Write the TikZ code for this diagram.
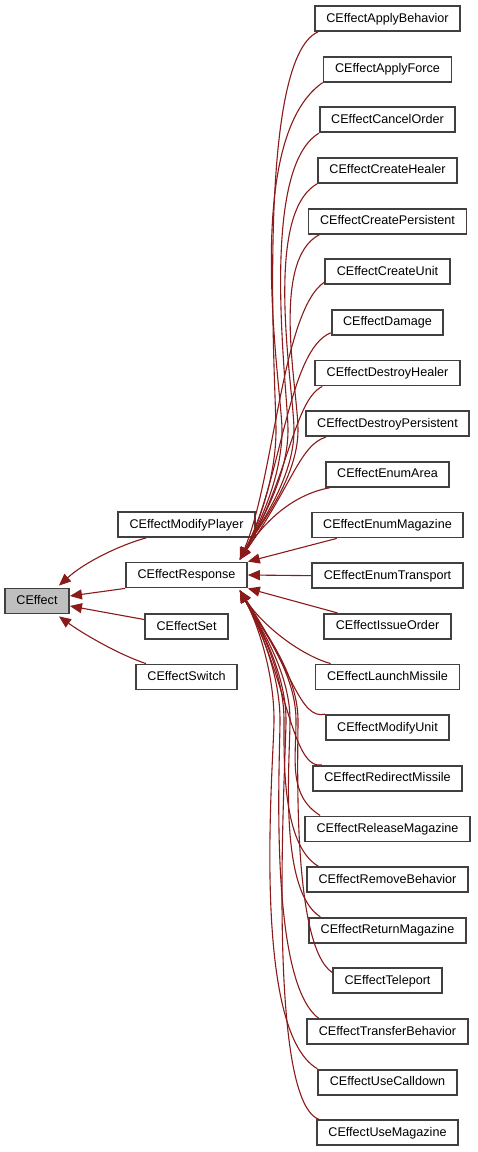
\documentclass[tikz,border=0pt]{standalone}
\usepackage{fontspec}
\setmainfont{Liberation Sans}
\usetikzlibrary{arrows.meta}
\definecolor{edgecol}{HTML}{8B1A1A}
\definecolor{boxline}{HTML}{404040}
\definecolor{rootfill}{HTML}{BFBFBF}
% #1 start point, #2 x of bundle point, #3 control near start
\newcommand\upcurve[3]{\draw[edge] (tu) .. controls (256,530) and (#2,480) .. (#2,430) .. controls (#2,390) and (#3) .. (#1);}
\newcommand\dncurve[3]{\draw[edge] (td) .. controls (256,620) and (#2,670) .. (#2,720) .. controls (#2,760) and (#3) .. (#1);}
\begin{document}
\begin{tikzpicture}[x=1pt,y=-1pt,
  box/.style={draw=boxline,line width=1.8pt,fill=white,minimum height=25pt,inner xsep=11.5pt,inner ysep=0pt,
    font=\fontsize{12.6}{15}\selectfont,text height=9.5pt,text depth=2.5pt},
  edge/.style={draw=edgecol,line width=1.1pt,{Triangle[length=12pt,width=10pt]}-}]
\useasboundingbox (0,0) rectangle (477,1152);
\fill[white] (0,0) rectangle (477,1152);
\node[box,fill=rootfill] (ce) at (37,601) {CEffect};
\node[box] (mp) at (186.5,524.5) {CEffectModifyPlayer};
\node[box] (resp) at (186.5,575) {CEffectResponse};
\node[box] (set) at (186.5,626.5) {CEffectSet};
\node[box] (sw) at (186.5,677) {CEffectSwitch};
\foreach \n [count=\i from 0] in {ApplyBehavior,ApplyForce,CancelOrder,CreateHealer,CreatePersistent,CreateUnit,Damage,DestroyHealer,DestroyPersistent,EnumArea,EnumMagazine,EnumTransport,IssueOrder,LaunchMissile,ModifyUnit,RedirectMissile,ReleaseMagazine,RemoveBehavior,ReturnMagazine,Teleport,TransferBehavior,UseCalldown,UseMagazine}
  \node[box] (r\i) at (387.5,{18.5+50.65*\i}) {CEffect\n};
% left edges
\draw[edge] ([xshift=-11pt,yshift=2pt]ce.north east) .. controls (85,562) and (120,545) .. ([xshift=29pt]mp.south west);
\draw[edge] ([yshift=5pt]ce.east) -- (resp.south west);
\draw[edge] ([yshift=-5pt]ce.east) -- ([yshift=7pt]set.west);
\draw[edge] ([xshift=-11pt,yshift=-2pt]ce.south east) .. controls (85,635) and (120,655) .. ([xshift=11pt]sw.north west);
% tips on CEffectResponse
\coordinate (tu) at ([xshift=-8pt,yshift=2pt]resp.north east);
\coordinate (td) at ([xshift=-8pt,yshift=-2pt]resp.south east);
% upper curves
\upcurve{[xshift=4pt]r0.south west}{276}{255,60}
\upcurve{r1.south west}{282}{240,140}
\upcurve{r2.south west}{288}{258,170}
\upcurve{r3.south west}{294}{262,215}
\upcurve{[xshift=12pt]r4.south west}{298}{270,260}
\draw[edge] (tu) .. controls (274,480) and (282,310) .. ([yshift=3pt]r5.south west);
\draw[edge] (tu) .. controls (282,480) and (288,350) .. ([yshift=3pt]r6.south west);
\draw[edge] (tu) .. controls (288,480) and (294,400) .. ([xshift=8pt]r7.south west);
\draw[edge] (tu) .. controls (292,485) and (300,445) .. ([xshift=21pt]r8.south west);
\draw[edge] (tu) .. controls (262,525) and (290,495) .. ([xshift=5pt]r9.south west);
% nearly straight ones
\draw[edge] (resp.north east) -- ([xshift=26pt]r10.south west);
\draw[edge] (resp.east) -- (r11.west);
\draw[edge] (resp.south east) -- ([xshift=14pt]r12.north west);
% lower curves
\draw[edge] (td) .. controls (262,625) and (300,655) .. ([xshift=16pt]r13.north west);
\draw[edge] (td) .. controls (292,670) and (300,720) .. (r14.north west);
\draw[edge] (td) .. controls (288,680) and (292,770) .. ([xshift=10pt]r15.north west);
\dncurve{[xshift=16pt]r16.north west}{296}{288,795}
\dncurve{[xshift=12pt]r17.north west}{284}{282,845}
\dncurve{[xshift=12pt]r18.north west}{290}{278,890}
\dncurve{[yshift=-5pt]r19.north west}{298}{292,945}
\dncurve{[xshift=12pt]r20.north west}{280}{268,980}
\dncurve{r21.north west}{274}{250,1030}
\dncurve{[xshift=3pt]r22.north west}{286}{265,1100}
\end{tikzpicture}
\end{document}
